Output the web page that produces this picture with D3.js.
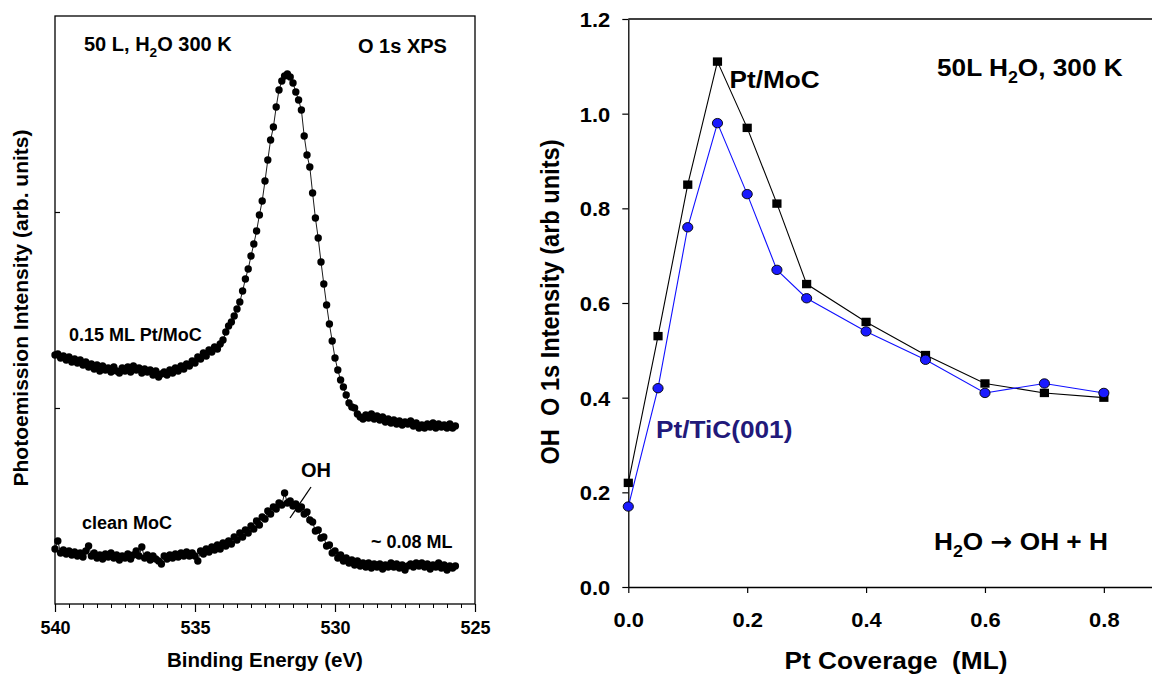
<!DOCTYPE html>
<html><head><meta charset="utf-8">
<script src="https://cdn.jsdelivr.net/npm/d3@7"></script>
<style>
body{margin:0;background:#fff;}
svg text{font-family:"Liberation Sans",Arial,Helvetica,sans-serif;font-weight:bold;fill:#000;}
</style></head><body>
<svg id="c" width="1152" height="674" xmlns="http://www.w3.org/2000/svg"></svg>
<script>
// ---------- LEFT PANEL DATA: O 1s XPS spectra (binding energy, eV) ----------
const energies = [
540.0,539.9,539.8,539.7,539.6,539.5,539.4,539.3,539.2,539.1,
539.0,538.9,538.8,538.7,538.6,538.5,538.4,538.3,538.2,538.1,
538.0,537.9,537.8,537.7,537.6,537.5,537.4,537.3,537.2,537.1,
537.0,536.9,536.8,536.7,536.6,536.5,536.4,536.3,536.2,536.1,
536.0,535.9,535.8,535.7,535.6,535.5,535.4,535.3,535.2,535.1,
535.0,534.9,534.8,534.7,534.6,534.5,534.4,534.3,534.2,534.1,
534.0,533.9,533.8,533.7,533.6,533.5,533.4,533.3,533.2,533.1,
533.0,532.9,532.8,532.7,532.6,532.5,532.4,532.3,532.2,532.1,
532.0,531.9,531.8,531.7,531.6,531.5,531.4,531.3,531.2,531.1,
531.0,530.9,530.8,530.7,530.6,530.5,530.4,530.3,530.2,530.1,
530.0,529.9,529.8,529.7,529.6,529.5,529.4,529.3,529.2,529.1,
529.0,528.9,528.8,528.7,528.6,528.5,528.4,528.3,528.2,528.1,
528.0,527.9,527.8,527.7,527.6,527.5,527.4,527.3,527.2,527.1,
527.0,526.9,526.8,526.7,526.6,526.5,526.4,526.3,526.2,526.1,
526.0,525.9,525.8,525.7];
// 0.15 ML Pt/MoC spectrum (arb. units)
const ptMoCSpectrum = [
249,250,246,248,244,247,242,245,241,244,
239,242,237,240,235,239,233,238,234,236,
232,237,233,231,236,233,237,232,238,234,
236,231,235,232,234,229,233,227,230,232,
229,234,231,236,233,238,235,240,238,243,
241,247,245,251,248,254,252,257,255,260,
264,272,278,282,288,295,302,313,325,335,
348,360,373,389,403,423,444,464,477,497,
514,523,528,530,527,521,512,504,494,468,
449,437,411,386,366,342,320,299,280,263,
246,234,224,217,209,201,197,196,190,187,
185,189,186,190,185,188,184,187,182,185,
181,184,180,183,179,182,180,183,178,181,
176,179,176,180,177,181,176,180,177,179,
176,180,176,178];
// clean MoC spectrum (arb. units)
const cleanMoCSpectrum = [
55,63,51,54,50,53,49,52,48,51,
47,53,58,48,51,46,49,45,50,47,
51,46,49,44,48,46,50,45,49,53,
48,57,46,49,44,48,45,43,40,48,
45,49,46,50,47,51,48,52,48,51,
48,43,53,50,55,52,57,54,59,55,
61,58,63,60,67,64,71,67,74,71,
78,75,83,79,87,85,93,90,97,95,
101,99,111,101,103,98,100,95,97,90,
92,84,82,73,74,66,67,58,59,51,
53,46,49,43,46,41,44,39,43,38,
41,37,41,36,40,37,40,35,39,37,
41,37,40,36,39,34,38,40,37,41,
38,41,37,40,35,39,37,41,36,39,
34,38,36,38];
const bindingTicks = [540, 535, 530, 525];
const intensityMarks = [196, 392];

// ---------- RIGHT PANEL DATA ----------
const coverage = [0, 0.05, 0.1, 0.15, 0.2, 0.25, 0.3, 0.4, 0.5, 0.6, 0.7, 0.8];
const ptMoC   = [0.22, 0.53, 0.85, 1.11, 0.97, 0.81, 0.64, 0.56, 0.49, 0.43, 0.41, 0.40];
const ptTiC   = [0.17, 0.42, 0.76, 0.98, 0.83, 0.67, 0.61, 0.54, 0.48, 0.41, 0.43, 0.41];
const coverageTicks = [0, 0.2, 0.4, 0.6, 0.8];
const ohTicks = [0, 0.2, 0.4, 0.6, 0.8, 1.0, 1.2];

const svg = d3.select("#c");

// text with optional subscript parts: parts = [[str, kind], ...]
function richText(g, x, y, parts, size, opt) {
  opt = opt || {};
  const sx = opt.sx || 1;
  const t = g.append("text").attr("transform", `translate(${x},${y}) scale(${sx},1)`)
    .style("font-size", size + "px").attr("xml:space", "preserve").style("white-space", "pre");
  if (opt.fill) t.style("fill", opt.fill);
  if (opt.anchor) t.attr("text-anchor", opt.anchor);
  let sub = false;
  parts.forEach(p => {
    const s = t.append("tspan").text(p[0]);
    if (p[1] === "sub") {
      s.style("font-size", (size * 0.68) + "px").attr("dy", size * 0.28);
      sub = true;
    } else {
      if (sub) { s.attr("dy", -size * 0.28); sub = false; }
      if (p[1] === "arrow") s.style("font-family", "'DejaVu Sans',sans-serif");
    }
  });
  return t;
}

// ================= LEFT PANEL =================
const xL = d3.scaleLinear().domain([540, 525]).range([55, 475]);
const yL = d3.scaleLinear().domain([0, 588]).range([604, 16]);
const L = svg.append("g");

L.append("g").attr("transform", "translate(0,604)")
  .call(d3.axisBottom(xL).tickValues(d3.range(540, 524.9, -0.5)).tickSize(4).tickFormat(""))
  .call(g => g.select(".domain").remove())
  .selectAll("line").attr("stroke", "#000").attr("stroke-width", 1);
const gxL = L.append("g").attr("transform", "translate(0,604)")
  .call(d3.axisBottom(xL).tickValues(bindingTicks).tickSize(8).tickFormat(d3.format("d")));
gxL.select(".domain").remove();
gxL.selectAll("line").attr("stroke-width", 1.2);
gxL.selectAll("text").attr("y", 30).attr("dy", null).style("font-size", "18px");

L.append("g").attr("transform", "translate(55,0)")
  .call(d3.axisLeft(yL).tickValues(intensityMarks).tickSize(-5).tickFormat(""))
  .call(g => g.select(".domain").remove())
  .selectAll("line").attr("stroke-width", 1.2);

L.append("rect").attr("x", xL(540)).attr("y", yL(588)).attr("width", xL(525) - xL(540))
  .attr("height", yL(0) - yL(588)).attr("fill", "none").attr("stroke", "#000").attr("stroke-width", 1.3);

const specLine = d3.line().x((d, i) => xL(energies[i])).y(d => yL(d));
[ptMoCSpectrum, cleanMoCSpectrum].forEach(series => {
  L.append("path").datum(series).attr("d", specLine).attr("fill", "none")
    .attr("stroke", "#000").attr("stroke-width", 0.9);
  L.append("g").selectAll("circle").data(series).join("circle")
    .attr("cx", (d, i) => xL(energies[i])).attr("cy", d => yL(d)).attr("r", 3.7).attr("fill", "#000");
});

richText(L, 84, 51, [["50 L, H"], ["2", "sub"], ["O 300 K"]], 20);
richText(L, 358, 53, [["O 1s XPS"]], 20);
richText(L, 69, 341, [["0.15 ML Pt/MoC"]], 18);
richText(L, 82, 529, [["clean MoC"]], 18);
richText(L, 371, 548, [["~ 0.08 ML"]], 18);
richText(L, 301, 477, [["OH"]], 20);
L.append("line").attr("x1", 311).attr("y1", 487).attr("x2", 290).attr("y2", 518)
  .attr("stroke", "#000").attr("stroke-width", 1.3);
L.append("text").attr("x", 265).attr("y", 667).attr("text-anchor", "middle")
  .style("font-size", "20.5px").text("Binding Energy (eV)");
L.append("text").attr("transform", "translate(28,308) rotate(-90)").attr("text-anchor", "middle")
  .style("font-size", "21px").text("Photoemission Intensity (arb. units)");

// ================= RIGHT PANEL =================
const xMax = 0.881;
const xR = d3.scaleLinear().domain([0, xMax]).range([628.3, 1152]);
const yR = d3.scaleLinear().domain([0, 1.2]).range([587, 19]);
const R = svg.append("g");
const SX = 1.07;

const gxR = R.append("g").attr("transform", "translate(0,587)")
  .call(d3.axisBottom(xR).tickValues(coverageTicks).tickSize(6).tickSizeOuter(0).tickFormat(d3.format(".1f")));
gxR.select(".domain").attr("stroke-width", 1.3);
gxR.selectAll("line").attr("stroke-width", 1.2);
gxR.selectAll("text").attr("y", 40).attr("dy", null).style("font-size", "20.5px")
  .attr("transform", `scale(${SX},1)`);

const gyR = R.append("g").attr("transform", "translate(628.3,0)")
  .call(d3.axisLeft(yR).tickValues(ohTicks).tickSize(6).tickSizeOuter(0).tickFormat(d3.format(".1f")));
gyR.select(".domain").attr("stroke-width", 1.3);
gyR.selectAll("line").attr("stroke-width", 1.2);
gyR.selectAll("text").attr("x", -18 / SX).attr("dy", "0.36em").style("font-size", "20.5px")
  .attr("transform", `scale(${SX},1)`);

R.append("line").attr("x1", xR(0)).attr("x2", xR(xMax)).attr("y1", yR(1.2)).attr("y2", yR(1.2))
  .attr("stroke", "#000").attr("stroke-width", 1.3);

const covLine = vals => d3.line().x((d, i) => xR(coverage[i])).y(d => yR(d))(vals);
R.append("path").attr("d", covLine(ptMoC)).attr("fill", "none").attr("stroke", "#000").attr("stroke-width", 1.1);
R.append("g").selectAll("rect").data(ptMoC).join("rect")
  .attr("x", (d, i) => xR(coverage[i]) - 4.6).attr("y", d => yR(d) - 4.2)
  .attr("width", 9.2).attr("height", 8.4).attr("fill", "#000");
R.append("path").attr("d", covLine(ptTiC)).attr("fill", "none").attr("stroke", "#1010ff").attr("stroke-width", 1.1);
R.append("g").selectAll("ellipse").data(ptTiC).join("ellipse")
  .attr("cx", (d, i) => xR(coverage[i])).attr("cy", d => yR(d)).attr("rx", 5.1).attr("ry", 4.7)
  .attr("fill", "#1a1aff").attr("stroke", "#000").attr("stroke-width", 0.9);

richText(R, 937, 76, [["50L H"], ["2", "sub"], ["O, 300 K"]], 24.5, {sx: SX});
richText(R, 729.5, 88, [["Pt/MoC"]], 24.5, {sx: SX});
richText(R, 656, 438, [["Pt/TiC(001)"]], 24.5, {sx: SX, fill: "#22197a"});
richText(R, 934, 550, [["H"], ["2", "sub"], ["O "], ["\u2192", "arrow"], [" OH + H"]], 24.5, {sx: SX});
richText(R, 896, 669, [["Pt Coverage  (ML)"]], 24.5, {sx: SX, anchor: "middle"});
R.append("text").attr("transform", `translate(559,302) scale(${SX},1) rotate(-90)`).attr("text-anchor", "middle")
  .attr("xml:space", "preserve").style("white-space", "pre")
  .style("font-size", "23.6px").text("OH  O 1s Intensity (arb units)");
</script>
</body></html>
